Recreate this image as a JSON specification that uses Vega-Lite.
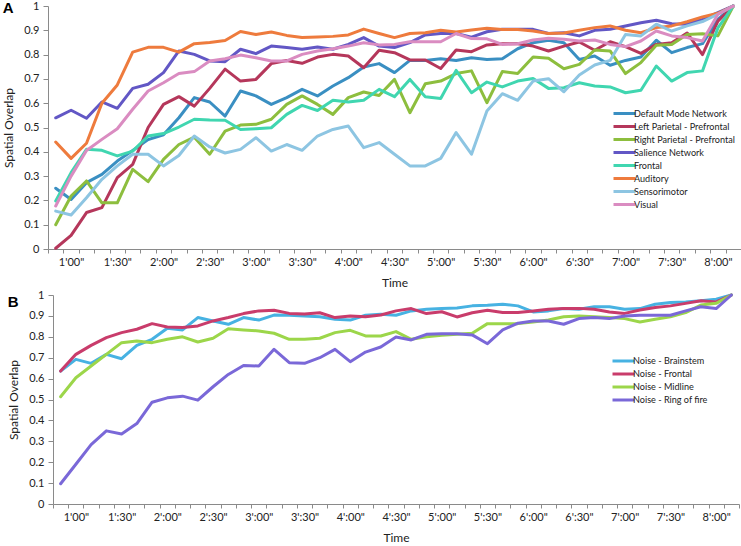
{
  "$schema": "https://vega.github.io/schema/vega-lite/v6.json",
  "background": "white",
  "padding": {"left": 2, "top": 0, "right": 0, "bottom": 0},
  "spacing": 1,
  "config": {
    "view": {"stroke": null},
    "font": "Lato",
    "axis": {
      "grid": false,
      "domainColor": "#8a8a8a",
      "tickColor": "#8a8a8a",
      "labelColor": "#222222",
      "titleColor": "#222222",
      "labelFont": "Lato",
      "titleFont": "Lato",
      "labelFontSize": 11,
      "titleFontSize": 12,
      "titleFontWeight": "normal"
    },
    "legend": {"labelFont": "Lato", "labelColor": "#222222"},
    "title": {"font": "Liberation Sans", "fontWeight": "bold", "fontSize": 15, "color": "#000000"}
  },
  "datasets": {
    "a": [
      {"t":50,"n":"Default Mode Network","v":0.25},{"t":60,"n":"Default Mode Network","v":0.204},{"t":70,"n":"Default Mode Network","v":0.273},{"t":80,"n":"Default Mode Network","v":0.307},{"t":90,"n":"Default Mode Network","v":0.362},{"t":100,"n":"Default Mode Network","v":0.405},{"t":110,"n":"Default Mode Network","v":0.45},{"t":120,"n":"Default Mode Network","v":0.47},{"t":130,"n":"Default Mode Network","v":0.54},{"t":140,"n":"Default Mode Network","v":0.623},{"t":150,"n":"Default Mode Network","v":0.605},{"t":160,"n":"Default Mode Network","v":0.547},{"t":170,"n":"Default Mode Network","v":0.65},{"t":180,"n":"Default Mode Network","v":0.63},{"t":190,"n":"Default Mode Network","v":0.595},{"t":200,"n":"Default Mode Network","v":0.623},{"t":210,"n":"Default Mode Network","v":0.657},{"t":220,"n":"Default Mode Network","v":0.63},{"t":230,"n":"Default Mode Network","v":0.671},{"t":240,"n":"Default Mode Network","v":0.705},{"t":250,"n":"Default Mode Network","v":0.749},{"t":260,"n":"Default Mode Network","v":0.763},{"t":270,"n":"Default Mode Network","v":0.726},{"t":280,"n":"Default Mode Network","v":0.776},{"t":290,"n":"Default Mode Network","v":0.776},{"t":300,"n":"Default Mode Network","v":0.783},{"t":310,"n":"Default Mode Network","v":0.776},{"t":320,"n":"Default Mode Network","v":0.787},{"t":330,"n":"Default Mode Network","v":0.78},{"t":340,"n":"Default Mode Network","v":0.783},{"t":350,"n":"Default Mode Network","v":0.824},{"t":360,"n":"Default Mode Network","v":0.849},{"t":370,"n":"Default Mode Network","v":0.859},{"t":380,"n":"Default Mode Network","v":0.849},{"t":390,"n":"Default Mode Network","v":0.78},{"t":400,"n":"Default Mode Network","v":0.794},{"t":410,"n":"Default Mode Network","v":0.756},{"t":420,"n":"Default Mode Network","v":0.776},{"t":430,"n":"Default Mode Network","v":0.79},{"t":440,"n":"Default Mode Network","v":0.859},{"t":450,"n":"Default Mode Network","v":0.808},{"t":460,"n":"Default Mode Network","v":0.829},{"t":470,"n":"Default Mode Network","v":0.845},{"t":480,"n":"Default Mode Network","v":0.945},{"t":490,"n":"Default Mode Network","v":1.0},
      {"t":50,"n":"Left Parietal - Prefrontal","v":0.003},{"t":60,"n":"Left Parietal - Prefrontal","v":0.056},{"t":70,"n":"Left Parietal - Prefrontal","v":0.15},{"t":80,"n":"Left Parietal - Prefrontal","v":0.17},{"t":90,"n":"Left Parietal - Prefrontal","v":0.294},{"t":100,"n":"Left Parietal - Prefrontal","v":0.348},{"t":110,"n":"Left Parietal - Prefrontal","v":0.5},{"t":120,"n":"Left Parietal - Prefrontal","v":0.595},{"t":130,"n":"Left Parietal - Prefrontal","v":0.627},{"t":140,"n":"Left Parietal - Prefrontal","v":0.588},{"t":150,"n":"Left Parietal - Prefrontal","v":0.661},{"t":160,"n":"Left Parietal - Prefrontal","v":0.74},{"t":170,"n":"Left Parietal - Prefrontal","v":0.691},{"t":180,"n":"Left Parietal - Prefrontal","v":0.698},{"t":190,"n":"Left Parietal - Prefrontal","v":0.763},{"t":200,"n":"Left Parietal - Prefrontal","v":0.776},{"t":210,"n":"Left Parietal - Prefrontal","v":0.764},{"t":220,"n":"Left Parietal - Prefrontal","v":0.79},{"t":230,"n":"Left Parietal - Prefrontal","v":0.801},{"t":240,"n":"Left Parietal - Prefrontal","v":0.794},{"t":250,"n":"Left Parietal - Prefrontal","v":0.746},{"t":260,"n":"Left Parietal - Prefrontal","v":0.818},{"t":270,"n":"Left Parietal - Prefrontal","v":0.808},{"t":280,"n":"Left Parietal - Prefrontal","v":0.778},{"t":290,"n":"Left Parietal - Prefrontal","v":0.778},{"t":300,"n":"Left Parietal - Prefrontal","v":0.743},{"t":310,"n":"Left Parietal - Prefrontal","v":0.819},{"t":320,"n":"Left Parietal - Prefrontal","v":0.812},{"t":330,"n":"Left Parietal - Prefrontal","v":0.84},{"t":340,"n":"Left Parietal - Prefrontal","v":0.845},{"t":350,"n":"Left Parietal - Prefrontal","v":0.845},{"t":360,"n":"Left Parietal - Prefrontal","v":0.835},{"t":370,"n":"Left Parietal - Prefrontal","v":0.815},{"t":380,"n":"Left Parietal - Prefrontal","v":0.835},{"t":390,"n":"Left Parietal - Prefrontal","v":0.852},{"t":400,"n":"Left Parietal - Prefrontal","v":0.818},{"t":410,"n":"Left Parietal - Prefrontal","v":0.853},{"t":420,"n":"Left Parietal - Prefrontal","v":0.833},{"t":430,"n":"Left Parietal - Prefrontal","v":0.805},{"t":440,"n":"Left Parietal - Prefrontal","v":0.842},{"t":450,"n":"Left Parietal - Prefrontal","v":0.849},{"t":460,"n":"Left Parietal - Prefrontal","v":0.889},{"t":470,"n":"Left Parietal - Prefrontal","v":0.8},{"t":480,"n":"Left Parietal - Prefrontal","v":0.938},{"t":490,"n":"Left Parietal - Prefrontal","v":1.0},
      {"t":50,"n":"Right Parietal - Prefrontal","v":0.1},{"t":60,"n":"Right Parietal - Prefrontal","v":0.218},{"t":70,"n":"Right Parietal - Prefrontal","v":0.28},{"t":80,"n":"Right Parietal - Prefrontal","v":0.19},{"t":90,"n":"Right Parietal - Prefrontal","v":0.19},{"t":100,"n":"Right Parietal - Prefrontal","v":0.328},{"t":110,"n":"Right Parietal - Prefrontal","v":0.277},{"t":120,"n":"Right Parietal - Prefrontal","v":0.369},{"t":130,"n":"Right Parietal - Prefrontal","v":0.43},{"t":140,"n":"Right Parietal - Prefrontal","v":0.46},{"t":150,"n":"Right Parietal - Prefrontal","v":0.39},{"t":160,"n":"Right Parietal - Prefrontal","v":0.485},{"t":170,"n":"Right Parietal - Prefrontal","v":0.51},{"t":180,"n":"Right Parietal - Prefrontal","v":0.513},{"t":190,"n":"Right Parietal - Prefrontal","v":0.534},{"t":200,"n":"Right Parietal - Prefrontal","v":0.595},{"t":210,"n":"Right Parietal - Prefrontal","v":0.63},{"t":220,"n":"Right Parietal - Prefrontal","v":0.595},{"t":230,"n":"Right Parietal - Prefrontal","v":0.554},{"t":240,"n":"Right Parietal - Prefrontal","v":0.623},{"t":250,"n":"Right Parietal - Prefrontal","v":0.646},{"t":260,"n":"Right Parietal - Prefrontal","v":0.632},{"t":270,"n":"Right Parietal - Prefrontal","v":0.698},{"t":280,"n":"Right Parietal - Prefrontal","v":0.561},{"t":290,"n":"Right Parietal - Prefrontal","v":0.68},{"t":300,"n":"Right Parietal - Prefrontal","v":0.691},{"t":310,"n":"Right Parietal - Prefrontal","v":0.722},{"t":320,"n":"Right Parietal - Prefrontal","v":0.733},{"t":330,"n":"Right Parietal - Prefrontal","v":0.602},{"t":340,"n":"Right Parietal - Prefrontal","v":0.73},{"t":350,"n":"Right Parietal - Prefrontal","v":0.722},{"t":360,"n":"Right Parietal - Prefrontal","v":0.79},{"t":370,"n":"Right Parietal - Prefrontal","v":0.785},{"t":380,"n":"Right Parietal - Prefrontal","v":0.742},{"t":390,"n":"Right Parietal - Prefrontal","v":0.76},{"t":400,"n":"Right Parietal - Prefrontal","v":0.819},{"t":410,"n":"Right Parietal - Prefrontal","v":0.815},{"t":420,"n":"Right Parietal - Prefrontal","v":0.722},{"t":430,"n":"Right Parietal - Prefrontal","v":0.767},{"t":440,"n":"Right Parietal - Prefrontal","v":0.838},{"t":450,"n":"Right Parietal - Prefrontal","v":0.842},{"t":460,"n":"Right Parietal - Prefrontal","v":0.883},{"t":470,"n":"Right Parietal - Prefrontal","v":0.886},{"t":480,"n":"Right Parietal - Prefrontal","v":0.877},{"t":490,"n":"Right Parietal - Prefrontal","v":1.0},
      {"t":50,"n":"Salience Network","v":0.54},{"t":60,"n":"Salience Network","v":0.571},{"t":70,"n":"Salience Network","v":0.538},{"t":80,"n":"Salience Network","v":0.605},{"t":90,"n":"Salience Network","v":0.579},{"t":100,"n":"Salience Network","v":0.661},{"t":110,"n":"Salience Network","v":0.678},{"t":120,"n":"Salience Network","v":0.726},{"t":130,"n":"Salience Network","v":0.815},{"t":140,"n":"Salience Network","v":0.801},{"t":150,"n":"Salience Network","v":0.774},{"t":160,"n":"Salience Network","v":0.771},{"t":170,"n":"Salience Network","v":0.822},{"t":180,"n":"Salience Network","v":0.804},{"t":190,"n":"Salience Network","v":0.835},{"t":200,"n":"Salience Network","v":0.829},{"t":210,"n":"Salience Network","v":0.822},{"t":220,"n":"Salience Network","v":0.831},{"t":230,"n":"Salience Network","v":0.822},{"t":240,"n":"Salience Network","v":0.842},{"t":250,"n":"Salience Network","v":0.87},{"t":260,"n":"Salience Network","v":0.835},{"t":270,"n":"Salience Network","v":0.829},{"t":280,"n":"Salience Network","v":0.849},{"t":290,"n":"Salience Network","v":0.881},{"t":300,"n":"Salience Network","v":0.887},{"t":310,"n":"Salience Network","v":0.887},{"t":320,"n":"Salience Network","v":0.872},{"t":330,"n":"Salience Network","v":0.894},{"t":340,"n":"Salience Network","v":0.904},{"t":350,"n":"Salience Network","v":0.904},{"t":360,"n":"Salience Network","v":0.904},{"t":370,"n":"Salience Network","v":0.887},{"t":380,"n":"Salience Network","v":0.89},{"t":390,"n":"Salience Network","v":0.877},{"t":400,"n":"Salience Network","v":0.9},{"t":410,"n":"Salience Network","v":0.904},{"t":420,"n":"Salience Network","v":0.918},{"t":430,"n":"Salience Network","v":0.931},{"t":440,"n":"Salience Network","v":0.941},{"t":450,"n":"Salience Network","v":0.927},{"t":460,"n":"Salience Network","v":0.925},{"t":470,"n":"Salience Network","v":0.945},{"t":480,"n":"Salience Network","v":0.973},{"t":490,"n":"Salience Network","v":1.0},
      {"t":50,"n":"Frontal","v":0.198},{"t":60,"n":"Frontal","v":0.314},{"t":70,"n":"Frontal","v":0.41},{"t":80,"n":"Frontal","v":0.406},{"t":90,"n":"Frontal","v":0.383},{"t":100,"n":"Frontal","v":0.403},{"t":110,"n":"Frontal","v":0.465},{"t":120,"n":"Frontal","v":0.475},{"t":130,"n":"Frontal","v":0.502},{"t":140,"n":"Frontal","v":0.534},{"t":150,"n":"Frontal","v":0.531},{"t":160,"n":"Frontal","v":0.53},{"t":170,"n":"Frontal","v":0.492},{"t":180,"n":"Frontal","v":0.495},{"t":190,"n":"Frontal","v":0.499},{"t":200,"n":"Frontal","v":0.554},{"t":210,"n":"Frontal","v":0.591},{"t":220,"n":"Frontal","v":0.57},{"t":230,"n":"Frontal","v":0.612},{"t":240,"n":"Frontal","v":0.605},{"t":250,"n":"Frontal","v":0.612},{"t":260,"n":"Frontal","v":0.657},{"t":270,"n":"Frontal","v":0.627},{"t":280,"n":"Frontal","v":0.698},{"t":290,"n":"Frontal","v":0.627},{"t":300,"n":"Frontal","v":0.619},{"t":310,"n":"Frontal","v":0.735},{"t":320,"n":"Frontal","v":0.643},{"t":330,"n":"Frontal","v":0.687},{"t":340,"n":"Frontal","v":0.667},{"t":350,"n":"Frontal","v":0.691},{"t":360,"n":"Frontal","v":0.702},{"t":370,"n":"Frontal","v":0.661},{"t":380,"n":"Frontal","v":0.664},{"t":390,"n":"Frontal","v":0.684},{"t":400,"n":"Frontal","v":0.671},{"t":410,"n":"Frontal","v":0.667},{"t":420,"n":"Frontal","v":0.643},{"t":430,"n":"Frontal","v":0.653},{"t":440,"n":"Frontal","v":0.753},{"t":450,"n":"Frontal","v":0.691},{"t":460,"n":"Frontal","v":0.726},{"t":470,"n":"Frontal","v":0.733},{"t":480,"n":"Frontal","v":0.91},{"t":490,"n":"Frontal","v":1.0},
      {"t":50,"n":"Auditory","v":0.44},{"t":60,"n":"Auditory","v":0.373},{"t":70,"n":"Auditory","v":0.435},{"t":80,"n":"Auditory","v":0.6},{"t":90,"n":"Auditory","v":0.675},{"t":100,"n":"Auditory","v":0.81},{"t":110,"n":"Auditory","v":0.83},{"t":120,"n":"Auditory","v":0.83},{"t":130,"n":"Auditory","v":0.81},{"t":140,"n":"Auditory","v":0.845},{"t":150,"n":"Auditory","v":0.85},{"t":160,"n":"Auditory","v":0.858},{"t":170,"n":"Auditory","v":0.895},{"t":180,"n":"Auditory","v":0.883},{"t":190,"n":"Auditory","v":0.893},{"t":200,"n":"Auditory","v":0.879},{"t":210,"n":"Auditory","v":0.87},{"t":220,"n":"Auditory","v":0.872},{"t":230,"n":"Auditory","v":0.875},{"t":240,"n":"Auditory","v":0.881},{"t":250,"n":"Auditory","v":0.905},{"t":260,"n":"Auditory","v":0.887},{"t":270,"n":"Auditory","v":0.87},{"t":280,"n":"Auditory","v":0.887},{"t":290,"n":"Auditory","v":0.89},{"t":300,"n":"Auditory","v":0.9},{"t":310,"n":"Auditory","v":0.893},{"t":320,"n":"Auditory","v":0.901},{"t":330,"n":"Auditory","v":0.908},{"t":340,"n":"Auditory","v":0.903},{"t":350,"n":"Auditory","v":0.903},{"t":360,"n":"Auditory","v":0.897},{"t":370,"n":"Auditory","v":0.887},{"t":380,"n":"Auditory","v":0.889},{"t":390,"n":"Auditory","v":0.9},{"t":400,"n":"Auditory","v":0.911},{"t":410,"n":"Auditory","v":0.918},{"t":420,"n":"Auditory","v":0.9},{"t":430,"n":"Auditory","v":0.89},{"t":440,"n":"Auditory","v":0.911},{"t":450,"n":"Auditory","v":0.918},{"t":460,"n":"Auditory","v":0.935},{"t":470,"n":"Auditory","v":0.955},{"t":480,"n":"Auditory","v":0.97},{"t":490,"n":"Auditory","v":1.0},
      {"t":50,"n":"Sensorimotor","v":0.156},{"t":60,"n":"Sensorimotor","v":0.14},{"t":70,"n":"Sensorimotor","v":0.211},{"t":80,"n":"Sensorimotor","v":0.287},{"t":90,"n":"Sensorimotor","v":0.342},{"t":100,"n":"Sensorimotor","v":0.39},{"t":110,"n":"Sensorimotor","v":0.39},{"t":120,"n":"Sensorimotor","v":0.342},{"t":130,"n":"Sensorimotor","v":0.385},{"t":140,"n":"Sensorimotor","v":0.465},{"t":150,"n":"Sensorimotor","v":0.42},{"t":160,"n":"Sensorimotor","v":0.395},{"t":170,"n":"Sensorimotor","v":0.41},{"t":180,"n":"Sensorimotor","v":0.458},{"t":190,"n":"Sensorimotor","v":0.403},{"t":200,"n":"Sensorimotor","v":0.43},{"t":210,"n":"Sensorimotor","v":0.406},{"t":220,"n":"Sensorimotor","v":0.465},{"t":230,"n":"Sensorimotor","v":0.492},{"t":240,"n":"Sensorimotor","v":0.506},{"t":250,"n":"Sensorimotor","v":0.417},{"t":260,"n":"Sensorimotor","v":0.438},{"t":270,"n":"Sensorimotor","v":0.39},{"t":280,"n":"Sensorimotor","v":0.342},{"t":290,"n":"Sensorimotor","v":0.342},{"t":300,"n":"Sensorimotor","v":0.373},{"t":310,"n":"Sensorimotor","v":0.479},{"t":320,"n":"Sensorimotor","v":0.39},{"t":330,"n":"Sensorimotor","v":0.568},{"t":340,"n":"Sensorimotor","v":0.639},{"t":350,"n":"Sensorimotor","v":0.612},{"t":360,"n":"Sensorimotor","v":0.691},{"t":370,"n":"Sensorimotor","v":0.701},{"t":380,"n":"Sensorimotor","v":0.647},{"t":390,"n":"Sensorimotor","v":0.716},{"t":400,"n":"Sensorimotor","v":0.757},{"t":410,"n":"Sensorimotor","v":0.776},{"t":420,"n":"Sensorimotor","v":0.883},{"t":430,"n":"Sensorimotor","v":0.877},{"t":440,"n":"Sensorimotor","v":0.925},{"t":450,"n":"Sensorimotor","v":0.897},{"t":460,"n":"Sensorimotor","v":0.918},{"t":470,"n":"Sensorimotor","v":0.936},{"t":480,"n":"Sensorimotor","v":0.966},{"t":490,"n":"Sensorimotor","v":1.0},
      {"t":50,"n":"Visual","v":0.177},{"t":60,"n":"Visual","v":0.3},{"t":70,"n":"Visual","v":0.405},{"t":80,"n":"Visual","v":0.451},{"t":90,"n":"Visual","v":0.495},{"t":100,"n":"Visual","v":0.575},{"t":110,"n":"Visual","v":0.65},{"t":120,"n":"Visual","v":0.684},{"t":130,"n":"Visual","v":0.722},{"t":140,"n":"Visual","v":0.73},{"t":150,"n":"Visual","v":0.774},{"t":160,"n":"Visual","v":0.783},{"t":170,"n":"Visual","v":0.798},{"t":180,"n":"Visual","v":0.787},{"t":190,"n":"Visual","v":0.774},{"t":200,"n":"Visual","v":0.774},{"t":210,"n":"Visual","v":0.801},{"t":220,"n":"Visual","v":0.815},{"t":230,"n":"Visual","v":0.824},{"t":240,"n":"Visual","v":0.835},{"t":250,"n":"Visual","v":0.849},{"t":260,"n":"Visual","v":0.84},{"t":270,"n":"Visual","v":0.842},{"t":280,"n":"Visual","v":0.853},{"t":290,"n":"Visual","v":0.853},{"t":300,"n":"Visual","v":0.853},{"t":310,"n":"Visual","v":0.887},{"t":320,"n":"Visual","v":0.866},{"t":330,"n":"Visual","v":0.865},{"t":340,"n":"Visual","v":0.842},{"t":350,"n":"Visual","v":0.845},{"t":360,"n":"Visual","v":0.86},{"t":370,"n":"Visual","v":0.867},{"t":380,"n":"Visual","v":0.863},{"t":390,"n":"Visual","v":0.856},{"t":400,"n":"Visual","v":0.86},{"t":410,"n":"Visual","v":0.842},{"t":420,"n":"Visual","v":0.833},{"t":430,"n":"Visual","v":0.856},{"t":440,"n":"Visual","v":0.897},{"t":450,"n":"Visual","v":0.877},{"t":460,"n":"Visual","v":0.87},{"t":470,"n":"Visual","v":0.856},{"t":480,"n":"Visual","v":0.966},{"t":490,"n":"Visual","v":1.0}
    ],
    "b": [
      {"t":50,"n":"Noise - Brainstem","v":0.636},{"t":60,"n":"Noise - Brainstem","v":0.692},{"t":70,"n":"Noise - Brainstem","v":0.673},{"t":80,"n":"Noise - Brainstem","v":0.716},{"t":90,"n":"Noise - Brainstem","v":0.695},{"t":100,"n":"Noise - Brainstem","v":0.759},{"t":110,"n":"Noise - Brainstem","v":0.788},{"t":120,"n":"Noise - Brainstem","v":0.841},{"t":130,"n":"Noise - Brainstem","v":0.833},{"t":140,"n":"Noise - Brainstem","v":0.892},{"t":150,"n":"Noise - Brainstem","v":0.876},{"t":160,"n":"Noise - Brainstem","v":0.86},{"t":170,"n":"Noise - Brainstem","v":0.892},{"t":180,"n":"Noise - Brainstem","v":0.88},{"t":190,"n":"Noise - Brainstem","v":0.904},{"t":200,"n":"Noise - Brainstem","v":0.903},{"t":210,"n":"Noise - Brainstem","v":0.9},{"t":220,"n":"Noise - Brainstem","v":0.896},{"t":230,"n":"Noise - Brainstem","v":0.884},{"t":240,"n":"Noise - Brainstem","v":0.88},{"t":250,"n":"Noise - Brainstem","v":0.903},{"t":260,"n":"Noise - Brainstem","v":0.908},{"t":270,"n":"Noise - Brainstem","v":0.903},{"t":280,"n":"Noise - Brainstem","v":0.924},{"t":290,"n":"Noise - Brainstem","v":0.932},{"t":300,"n":"Noise - Brainstem","v":0.935},{"t":310,"n":"Noise - Brainstem","v":0.938},{"t":320,"n":"Noise - Brainstem","v":0.948},{"t":330,"n":"Noise - Brainstem","v":0.951},{"t":340,"n":"Noise - Brainstem","v":0.956},{"t":350,"n":"Noise - Brainstem","v":0.948},{"t":360,"n":"Noise - Brainstem","v":0.919},{"t":370,"n":"Noise - Brainstem","v":0.924},{"t":380,"n":"Noise - Brainstem","v":0.935},{"t":390,"n":"Noise - Brainstem","v":0.932},{"t":400,"n":"Noise - Brainstem","v":0.944},{"t":410,"n":"Noise - Brainstem","v":0.944},{"t":420,"n":"Noise - Brainstem","v":0.932},{"t":430,"n":"Noise - Brainstem","v":0.935},{"t":440,"n":"Noise - Brainstem","v":0.956},{"t":450,"n":"Noise - Brainstem","v":0.964},{"t":460,"n":"Noise - Brainstem","v":0.967},{"t":470,"n":"Noise - Brainstem","v":0.972},{"t":480,"n":"Noise - Brainstem","v":0.98},{"t":490,"n":"Noise - Brainstem","v":1.0},
      {"t":50,"n":"Noise - Frontal","v":0.636},{"t":60,"n":"Noise - Frontal","v":0.716},{"t":70,"n":"Noise - Frontal","v":0.759},{"t":80,"n":"Noise - Frontal","v":0.796},{"t":90,"n":"Noise - Frontal","v":0.82},{"t":100,"n":"Noise - Frontal","v":0.836},{"t":110,"n":"Noise - Frontal","v":0.863},{"t":120,"n":"Noise - Frontal","v":0.847},{"t":130,"n":"Noise - Frontal","v":0.844},{"t":140,"n":"Noise - Frontal","v":0.852},{"t":150,"n":"Noise - Frontal","v":0.876},{"t":160,"n":"Noise - Frontal","v":0.892},{"t":170,"n":"Noise - Frontal","v":0.911},{"t":180,"n":"Noise - Frontal","v":0.924},{"t":190,"n":"Noise - Frontal","v":0.927},{"t":200,"n":"Noise - Frontal","v":0.912},{"t":210,"n":"Noise - Frontal","v":0.909},{"t":220,"n":"Noise - Frontal","v":0.915},{"t":230,"n":"Noise - Frontal","v":0.892},{"t":240,"n":"Noise - Frontal","v":0.9},{"t":250,"n":"Noise - Frontal","v":0.896},{"t":260,"n":"Noise - Frontal","v":0.904},{"t":270,"n":"Noise - Frontal","v":0.924},{"t":280,"n":"Noise - Frontal","v":0.935},{"t":290,"n":"Noise - Frontal","v":0.911},{"t":300,"n":"Noise - Frontal","v":0.92},{"t":310,"n":"Noise - Frontal","v":0.895},{"t":320,"n":"Noise - Frontal","v":0.915},{"t":330,"n":"Noise - Frontal","v":0.927},{"t":340,"n":"Noise - Frontal","v":0.916},{"t":350,"n":"Noise - Frontal","v":0.916},{"t":360,"n":"Noise - Frontal","v":0.924},{"t":370,"n":"Noise - Frontal","v":0.932},{"t":380,"n":"Noise - Frontal","v":0.936},{"t":390,"n":"Noise - Frontal","v":0.936},{"t":400,"n":"Noise - Frontal","v":0.932},{"t":410,"n":"Noise - Frontal","v":0.919},{"t":420,"n":"Noise - Frontal","v":0.912},{"t":430,"n":"Noise - Frontal","v":0.928},{"t":440,"n":"Noise - Frontal","v":0.94},{"t":450,"n":"Noise - Frontal","v":0.948},{"t":460,"n":"Noise - Frontal","v":0.96},{"t":470,"n":"Noise - Frontal","v":0.972},{"t":480,"n":"Noise - Frontal","v":0.967},{"t":490,"n":"Noise - Frontal","v":1.0},
      {"t":50,"n":"Noise - Midline","v":0.513},{"t":60,"n":"Noise - Midline","v":0.604},{"t":70,"n":"Noise - Midline","v":0.66},{"t":80,"n":"Noise - Midline","v":0.716},{"t":90,"n":"Noise - Midline","v":0.772},{"t":100,"n":"Noise - Midline","v":0.78},{"t":110,"n":"Noise - Midline","v":0.772},{"t":120,"n":"Noise - Midline","v":0.788},{"t":130,"n":"Noise - Midline","v":0.8},{"t":140,"n":"Noise - Midline","v":0.775},{"t":150,"n":"Noise - Midline","v":0.793},{"t":160,"n":"Noise - Midline","v":0.839},{"t":170,"n":"Noise - Midline","v":0.833},{"t":180,"n":"Noise - Midline","v":0.828},{"t":190,"n":"Noise - Midline","v":0.817},{"t":200,"n":"Noise - Midline","v":0.788},{"t":210,"n":"Noise - Midline","v":0.788},{"t":220,"n":"Noise - Midline","v":0.793},{"t":230,"n":"Noise - Midline","v":0.82},{"t":240,"n":"Noise - Midline","v":0.831},{"t":250,"n":"Noise - Midline","v":0.804},{"t":260,"n":"Noise - Midline","v":0.804},{"t":270,"n":"Noise - Midline","v":0.825},{"t":280,"n":"Noise - Midline","v":0.788},{"t":290,"n":"Noise - Midline","v":0.8},{"t":300,"n":"Noise - Midline","v":0.807},{"t":310,"n":"Noise - Midline","v":0.812},{"t":320,"n":"Noise - Midline","v":0.817},{"t":330,"n":"Noise - Midline","v":0.863},{"t":340,"n":"Noise - Midline","v":0.863},{"t":350,"n":"Noise - Midline","v":0.863},{"t":360,"n":"Noise - Midline","v":0.871},{"t":370,"n":"Noise - Midline","v":0.88},{"t":380,"n":"Noise - Midline","v":0.896},{"t":390,"n":"Noise - Midline","v":0.9},{"t":400,"n":"Noise - Midline","v":0.896},{"t":410,"n":"Noise - Midline","v":0.892},{"t":420,"n":"Noise - Midline","v":0.887},{"t":430,"n":"Noise - Midline","v":0.871},{"t":440,"n":"Noise - Midline","v":0.884},{"t":450,"n":"Noise - Midline","v":0.896},{"t":460,"n":"Noise - Midline","v":0.916},{"t":470,"n":"Noise - Midline","v":0.952},{"t":480,"n":"Noise - Midline","v":0.96},{"t":490,"n":"Noise - Midline","v":1.0},
      {"t":50,"n":"Noise - Ring of fire","v":0.097},{"t":60,"n":"Noise - Ring of fire","v":0.19},{"t":70,"n":"Noise - Ring of fire","v":0.284},{"t":80,"n":"Noise - Ring of fire","v":0.35},{"t":90,"n":"Noise - Ring of fire","v":0.335},{"t":100,"n":"Noise - Ring of fire","v":0.385},{"t":110,"n":"Noise - Ring of fire","v":0.487},{"t":120,"n":"Noise - Ring of fire","v":0.508},{"t":130,"n":"Noise - Ring of fire","v":0.516},{"t":140,"n":"Noise - Ring of fire","v":0.497},{"t":150,"n":"Noise - Ring of fire","v":0.561},{"t":160,"n":"Noise - Ring of fire","v":0.62},{"t":170,"n":"Noise - Ring of fire","v":0.663},{"t":180,"n":"Noise - Ring of fire","v":0.66},{"t":190,"n":"Noise - Ring of fire","v":0.74},{"t":200,"n":"Noise - Ring of fire","v":0.676},{"t":210,"n":"Noise - Ring of fire","v":0.673},{"t":220,"n":"Noise - Ring of fire","v":0.7},{"t":230,"n":"Noise - Ring of fire","v":0.74},{"t":240,"n":"Noise - Ring of fire","v":0.681},{"t":250,"n":"Noise - Ring of fire","v":0.727},{"t":260,"n":"Noise - Ring of fire","v":0.751},{"t":270,"n":"Noise - Ring of fire","v":0.799},{"t":280,"n":"Noise - Ring of fire","v":0.785},{"t":290,"n":"Noise - Ring of fire","v":0.812},{"t":300,"n":"Noise - Ring of fire","v":0.815},{"t":310,"n":"Noise - Ring of fire","v":0.815},{"t":320,"n":"Noise - Ring of fire","v":0.809},{"t":330,"n":"Noise - Ring of fire","v":0.767},{"t":340,"n":"Noise - Ring of fire","v":0.833},{"t":350,"n":"Noise - Ring of fire","v":0.865},{"t":360,"n":"Noise - Ring of fire","v":0.876},{"t":370,"n":"Noise - Ring of fire","v":0.876},{"t":380,"n":"Noise - Ring of fire","v":0.86},{"t":390,"n":"Noise - Ring of fire","v":0.887},{"t":400,"n":"Noise - Ring of fire","v":0.892},{"t":410,"n":"Noise - Ring of fire","v":0.887},{"t":420,"n":"Noise - Ring of fire","v":0.9},{"t":430,"n":"Noise - Ring of fire","v":0.903},{"t":440,"n":"Noise - Ring of fire","v":0.903},{"t":450,"n":"Noise - Ring of fire","v":0.903},{"t":460,"n":"Noise - Ring of fire","v":0.924},{"t":470,"n":"Noise - Ring of fire","v":0.944},{"t":480,"n":"Noise - Ring of fire","v":0.935},{"t":490,"n":"Noise - Ring of fire","v":1.0}
    ]
  },
  "vconcat": [
    {
      "title": {"text": "A", "anchor": "start", "frame": "bounds", "offset": 0, "dy": 16},
      "width": 693,
      "height": 243,
      "data": {"name": "a"},
      "mark": {"type": "line", "strokeWidth": 3, "strokeJoin": "round", "strokeCap": "round"},
      "encoding": {
        "x": {
          "field": "t", "type": "quantitative",
          "scale": {"domain": [45, 495], "nice": false, "zero": false},
          "axis": {
            "title": "Time",
            "values": [45,55,65,75,85,95,105,115,125,135,145,155,165,175,185,195,205,215,225,235,245,255,265,275,285,295,305,315,325,335,345,355,365,375,385,395,405,415,425,435,445,455,465,475,485,495,60,90,120,150,180,210,240,270,300,330,360,390,420,450,480],
            "labelExpr": "datum.value % 30 != 0 ? '' : (datum.value == 60 ? '1\\'00\"' : floor(datum.value / 60) + '\\':' + (datum.value % 60 == 0 ? '00' : '30') + '\"')",
            "tickOpacity": {"condition": {"test": "datum.value % 30 == 0", "value": 0}, "value": 1},
            "labelOverlap": false,
            "labelFlush": false,
            "tickSize": 4,
            "labelPadding": 3,
            "titlePadding": 10
          }
        },
        "y": {
          "field": "v", "type": "quantitative",
          "scale": {"domain": [0, 1], "nice": false},
          "axis": {
            "title": "Spatial Overlap",
            "values": [0,0.1,0.2,0.3,0.4,0.5,0.6,0.7,0.8,0.9,1],
            "format": "~g",
            "tickSize": 5,
            "labelPadding": 4,
            "titlePadding": 8
          }
        },
        "color": {
          "field": "n", "type": "nominal",
          "scale": {
            "domain": ["Default Mode Network","Left Parietal - Prefrontal","Right Parietal - Prefrontal","Salience Network","Frontal","Auditory","Sensorimotor","Visual"],
            "range": ["#3a8fc2","#b5375b","#8dbe3e","#6257c5","#40d6b0","#ee7b3d","#8dc5e2","#da8cc1"]
          },
          "legend": {
            "orient": "none", "legendX": 570, "legendY": 101, "title": null,
            "symbolType": "M-2.2,0H2.2", "symbolSize": 100, "symbolStrokeWidth": 3,
            "labelFontSize": 9.1, "labelOffset": 3, "rowPadding": -1.8, "padding": 0, "labelLimit": 250
          }
        }
      }
    },
    {
      "title": {"text": "B", "anchor": "start", "frame": "bounds", "offset": 0, "dy": 21},
      "width": 691,
      "height": 209,
      "data": {"name": "b"},
      "mark": {"type": "line", "strokeWidth": 3, "strokeJoin": "round", "strokeCap": "round"},
      "encoding": {
        "x": {
          "field": "t", "type": "quantitative",
          "scale": {"domain": [45, 495], "nice": false, "zero": false, "rangeMin": 5},
          "axis": {
            "title": "Time",
            "values": [45,55,65,75,85,95,105,115,125,135,145,155,165,175,185,195,205,215,225,235,245,255,265,275,285,295,305,315,325,335,345,355,365,375,385,395,405,415,425,435,445,455,465,475,485,495,60,90,120,150,180,210,240,270,300,330,360,390,420,450,480],
            "labelExpr": "datum.value % 30 != 0 ? '' : (datum.value == 60 ? '1\\'00\"' : floor(datum.value / 60) + '\\':' + (datum.value % 60 == 0 ? '00' : '30') + '\"')",
            "tickOpacity": {"condition": {"test": "datum.value % 30 == 0", "value": 0}, "value": 1},
            "labelOverlap": false,
            "labelFlush": false,
            "tickSize": 4,
            "labelPadding": 3,
            "titlePadding": 10
          }
        },
        "y": {
          "field": "v", "type": "quantitative",
          "scale": {"domain": [0, 1], "nice": false},
          "axis": {
            "title": "Spatial Overlap",
            "values": [0,0.1,0.2,0.3,0.4,0.5,0.6,0.7,0.8,0.9,1],
            "format": "~g",
            "tickSize": 5,
            "labelPadding": 4,
            "titlePadding": 8,
            "offset": -5
          }
        },
        "color": {
          "field": "n", "type": "nominal",
          "scale": {
            "domain": ["Noise - Brainstem","Noise - Frontal","Noise - Midline","Noise - Ring of fire"],
            "range": ["#47b2e2","#c93c6b","#9cd64a","#7a68d8"]
          },
          "legend": {
            "orient": "none", "legendX": 569, "legendY": 59.5, "title": null,
            "symbolType": "M-2.2,0H2.2", "symbolSize": 100, "symbolStrokeWidth": 3,
            "labelFontSize": 9.1, "labelOffset": 3, "rowPadding": -0.2, "padding": 0, "labelLimit": 250
          }
        }
      }
    }
  ],
  "resolve": {
    "scale": {"color": "independent", "x": "independent", "y": "independent"},
    "legend": {"color": "independent"}
  }
}
